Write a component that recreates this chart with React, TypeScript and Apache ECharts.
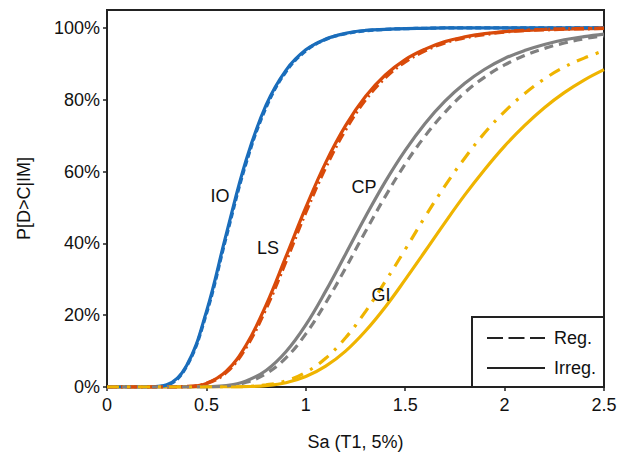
import React, { useEffect, useRef } from "react";
import * as echarts from "echarts";

const sa = [0, 0.1, 0.2, 0.3, 0.4, 0.5, 0.6, 0.7, 0.8, 0.9, 1.0, 1.1, 1.2, 1.3, 1.4, 1.5, 1.6, 1.7, 1.8, 1.9, 2.0, 2.1, 2.2, 2.3, 2.4, 2.5];

const ioIrreg = [0, 0, 0, 0.6, 5.9, 21.0, 42.6, 63.2, 78.5, 88.2, 93.9, 96.9, 98.5, 99.3, 99.6, 99.8, 99.9, 100, 100, 100, 100, 100, 100, 100, 100, 100];
const ioReg = [0, 0, 0, 0.5, 5.7, 20.4, 41.8, 62.4, 77.8, 87.8, 93.6, 96.8, 98.4, 99.2, 99.6, 99.8, 99.9, 100, 100, 100, 100, 100, 100, 100, 100, 100];
const lsIrreg = [0, 0, 0, 0, 0.1, 1.0, 4.4, 11.7, 22.8, 36.3, 50.0, 62.5, 72.8, 80.9, 86.9, 91.2, 94.1, 96.2, 97.5, 98.4, 99.0, 99.3, 99.6, 99.7, 99.8, 99.9];
const lsReg = [0, 0, 0, 0, 0.1, 1.0, 4.1, 11.1, 21.9, 35.0, 48.7, 61.2, 71.7, 80.0, 86.2, 90.6, 93.7, 95.9, 97.3, 98.2, 98.9, 99.3, 99.5, 99.7, 99.8, 99.9];
const cpIrreg = [0, 0, 0, 0, 0, 0.1, 0.4, 1.7, 4.6, 9.8, 17.3, 26.7, 37.0, 47.4, 57.2, 65.9, 73.4, 79.6, 84.6, 88.5, 91.5, 93.7, 95.4, 96.7, 97.6, 98.3];
const cpReg = [0, 0, 0, 0, 0, 0, 0.3, 1.3, 3.7, 8.1, 14.8, 23.4, 33.1, 43.3, 53.1, 62.1, 69.9, 76.5, 82.0, 86.3, 89.7, 92.3, 94.3, 95.8, 97.0, 97.8];
const giReg = [0, 0, 0, 0, 0, 0, 0, 0.1, 0.6, 1.7, 4.1, 8.0, 13.7, 21.0, 29.4, 38.3, 47.4, 56.0, 63.8, 70.8, 76.7, 81.7, 85.8, 89.1, 91.6, 93.7];
const giIrreg = [0, 0, 0, 0, 0, 0, 0, 0.1, 0.4, 1.2, 2.9, 5.8, 10.0, 15.6, 22.3, 29.9, 37.8, 45.8, 53.5, 60.6, 67.1, 72.8, 77.8, 82.0, 85.5, 88.4];

const yTicks = [0, 20, 40, 60, 80, 100];

const BLUE = "#1a6dbb";
const ORANGE = "#d94a0a";
const GRAY = "#808080";
const GOLD = "#efb400";
const FONT = "Liberation Sans, Arial, sans-serif";

function pairs(vals: number[]) {
  return sa.map((x, i) => [x, vals[i]]);
}

function line(name: string, vals: number[], color: string, type: any, width: number, z: number) {
  return {
    type: "line",
    name,
    data: pairs(vals),
    showSymbol: false,
    smooth: 0.4,
    clip: true,
    z,
    lineStyle: { color, width, type },
  };
}

export default function App() {
  const ref = useRef<HTMLDivElement>(null);
  useEffect(() => {
    if (!ref.current) return;
    const chart = echarts.init(ref.current, null, { renderer: "svg" });
    const txt = (t: string, x: number, y: number) => ({
      type: "text",
      x,
      y,
      style: { text: t, fontSize: 18, fontFamily: FONT, fill: "#111", align: "center", verticalAlign: "middle" },
      z: 20,
    });
    chart.setOption({
      animation: false,
      backgroundColor: "#fff",
      grid: { left: 107, right: 25, top: 10, bottom: 71, show: true, borderColor: "#222", borderWidth: 2, backgroundColor: "transparent" },
      xAxis: {
        type: "value",
        min: 0,
        max: 2.5,
        interval: 0.5,
        name: "Sa (T1, 5%)",
        nameLocation: "middle",
        nameGap: 46,
        nameTextStyle: { fontSize: 18, fontFamily: FONT, color: "#111" },
        axisLine: { show: true, lineStyle: { color: "#222", width: 2 } },
        axisTick: { show: true, inside: false, length: 4, lineStyle: { color: "#222", width: 1.5 } },
        axisLabel: { fontSize: 18, fontFamily: FONT, color: "#111", margin: 9 },
        splitLine: { show: false },
      },
      yAxis: {
        type: "value",
        min: 0,
        max: 105,
        interval: 20,
        name: "P[D>C|IM]",
        nameLocation: "middle",
        nameGap: 74,
        nameTextStyle: { fontSize: 18, fontFamily: FONT, color: "#111" },
        axisLine: { show: true, lineStyle: { color: "#222", width: 2 } },
        axisTick: { show: true, inside: false, length: 4, customValues: yTicks, lineStyle: { color: "#222", width: 1.5 } },
        axisLabel: { fontSize: 18, fontFamily: FONT, color: "#111", margin: 7, customValues: yTicks, formatter: (v: number) => v + "%" },
        splitLine: { show: false },
      },
      series: [
        line("IO Irreg.", ioIrreg, BLUE, "solid", 3.2, 2),
        line("IO Reg.", ioReg, BLUE, [6, 3], 3.2, 3),
        line("LS Irreg.", lsIrreg, ORANGE, "solid", 3.2, 2),
        line("LS Reg.", lsReg, ORANGE, [10, 4, 2, 4], 3.6, 3),
        line("CP Irreg.", cpIrreg, GRAY, "solid", 3.2, 2),
        line("CP Reg.", cpReg, GRAY, [9, 6], 3.2, 3),
        line("GI Irreg.", giIrreg, GOLD, "solid", 3.2, 2),
        line("GI Reg.", giReg, GOLD, [12, 8, 3, 8], 3.2, 3),
      ],
      graphic: [
        txt("IO", 220, 196),
        txt("LS", 268, 248),
        txt("CP", 364, 187),
        txt("GI", 381, 295),
        {
          type: "rect",
          shape: { x: 472, y: 317, width: 132, height: 70 },
          style: { fill: "#fff", stroke: "#222", lineWidth: 2 },
          z: 15,
        },
        {
          type: "line",
          shape: { x1: 487, y1: 338, x2: 545, y2: 338 },
          style: { stroke: "#222", lineWidth: 2, lineDash: [16, 5.5] },
          z: 16,
        },
        {
          type: "line",
          shape: { x1: 487, y1: 368, x2: 545, y2: 368 },
          style: { stroke: "#222", lineWidth: 2 },
          z: 16,
        },
        {
          type: "text",
          x: 554,
          y: 338,
          style: { text: "Reg.", fontSize: 18, fontFamily: FONT, fill: "#111", align: "left", verticalAlign: "middle" },
          z: 16,
        },
        {
          type: "text",
          x: 554,
          y: 368,
          style: { text: "Irreg.", fontSize: 18, fontFamily: FONT, fill: "#111", align: "left", verticalAlign: "middle" },
          z: 16,
        },
      ],
    });
    return () => chart.dispose();
  }, []);
  return <div ref={ref} style={{ width: 629, height: 458, position: "absolute", left: 0, top: 0 }} />;
}
